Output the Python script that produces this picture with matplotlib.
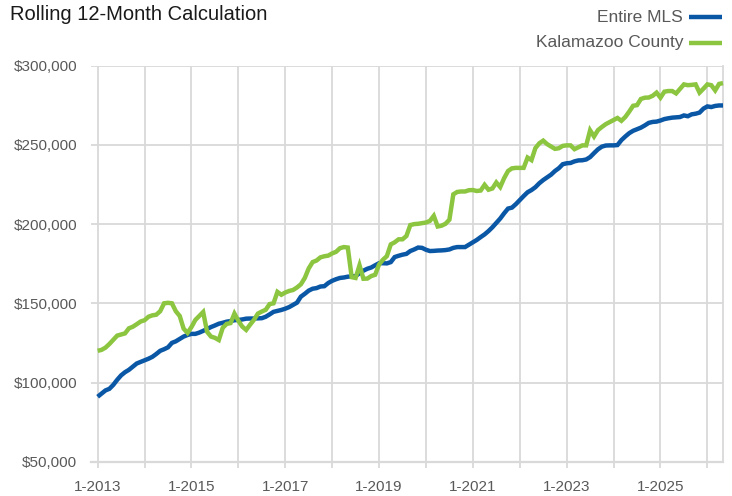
import numpy as np
import matplotlib
matplotlib.use("Agg")
import matplotlib.pyplot as plt
from matplotlib.lines import Line2D
from matplotlib.ticker import FuncFormatter

plt.rcParams['font.family'] = ['Liberation Sans', 'DejaVu Sans']

# ===== 数据：滚动12个月中位价（千美元），2013年1月起逐月 =====
start_year = 2013
entire_mls = [
    91, 93, 95, 96, 98.5, 101.7, 104.5, 106.5, 108, 110, 112, 113,
    114, 115, 116.2, 118, 120, 121, 122.2, 125, 126, 127.5, 129, 130,
    130.7, 130.7, 131.5, 132.6, 133.8, 135, 136, 137.1, 137.7, 138.4, 138.8, 139.3,
    139.5, 139.8, 140.3, 140.4, 140.4, 140.5, 140.6, 141.5, 143, 144.6, 145.2, 145.8,
    146.6, 147.6, 149, 150.4, 154.2, 156, 158, 159.2, 159.6, 160.6, 160.8, 162.8,
    164.2, 165.2, 166, 166.3, 166.8, 167, 167.2, 169, 170.6, 171.8, 172.6, 174,
    175.3, 175.3, 175.2, 176, 179.2, 180, 180.7, 181.2, 183, 184, 185.2, 185,
    183.8, 183, 183.1, 183.3, 183.4, 183.6, 184, 185, 185.5, 185.5, 185.5, 187,
    188.5, 190, 191.8, 193.5, 195.6, 198, 200.7, 203.5, 206.8, 209.8, 210.4, 212.6,
    215.2, 217.7, 220.1, 221.5, 223.3, 225.8, 227.8, 229.5, 231.2, 233.5, 235.3, 237.8,
    238.4, 238.6, 239.6, 240.2, 240.3, 240.8, 242.3, 244.8, 247.2, 248.9, 249.6, 249.7,
    249.7, 249.9, 253, 255.3, 257.4, 258.9, 259.9, 260.9, 262.3, 263.9, 264.5, 264.7,
    265.4, 266.3, 266.8, 267.2, 267.4, 267.6, 268.6, 268.1, 269.3, 269.7, 270.4, 272.9,
    274.3, 273.9, 274.6, 274.9, 274.9,
]
kalamazoo = [
    120, 120.6, 122, 124.3, 127, 129.6, 130.3, 131, 134.2, 135.2, 136.8, 138.5,
    139.3, 141.5, 142.4, 142.8, 145, 150, 150.3, 150, 145, 142, 134, 131.3,
    135, 139.5, 142, 144.5, 132, 129, 128.2, 126.8, 134.5, 137, 137.5, 143.5,
    139, 135.3, 133.2, 136.5, 139.6, 143.5, 144.8, 145.9, 149.5, 150, 157.2, 155.4,
    156.8, 157.8, 158.4, 160, 162, 166, 172, 176, 177, 179, 179.7, 180.1,
    181.5, 182.5, 184.8, 185.5, 185.2, 166.5, 166, 174, 165.5, 165.6, 167.2, 168,
    174.5, 177.5, 179.8, 187.2, 188.5, 190.4, 190.4, 192.5, 199.4, 200, 200.2, 200.6,
    201, 202, 205.2, 198.5, 199, 200.2, 202.8, 218.8, 220.3, 220.6, 220.6, 221.4,
    221.5, 220.9, 221.2, 224.8, 221.7, 222.5, 226.3, 223.4, 229, 233.5, 235.2, 235.5,
    235.5, 235.5, 242, 240.4, 248, 251, 252.7, 250.5, 249, 247.5, 247.9, 249.4,
    249.7, 249.7, 247.3, 248.5, 249.7, 249.7, 259.2, 255.3, 259.3, 261.3, 263.1, 264.4,
    265.7, 267, 265.2, 267.6, 271, 274.7, 275.1, 279, 279.8, 279.9, 281, 283,
    279.8, 283.6, 284, 284, 282.5, 285.4, 288.2, 287.7, 287.9, 288.2, 283, 285.5,
    288.2, 287.7, 284.4, 288.5, 289,
]
series_names = ["Entire MLS", "Kalamazoo County"]
series_colors = ["#0a57a6", "#8cc53f"]
y_ticks = [50000, 100000, 150000, 200000, 250000, 300000]

# ===== 绘图 =====
fig = plt.figure(figsize=(7.32, 4.96), dpi=100)
ax = fig.add_axes([91 / 732, 1 - 461.7 / 496, (723 - 91) / 732, (461.7 - 65.7) / 496])

x = np.arange(len(entire_mls))
for vals, c in zip([entire_mls, kalamazoo], series_colors):
    ax.plot(x, np.array(vals) * 1000, color=c, lw=3.2, solid_joinstyle="miter",
            solid_capstyle="butt", zorder=3, clip_on=False)

grid_c = "#d9d9d9"
year_ticks = np.arange(0, len(x), 12)
ax.set_xticks(year_ticks)
ax.set_xticklabels([f"1-{start_year + i}" if i % 2 == 0 else "" for i in range(len(year_ticks))])
ax.set_xlim(-1.7, len(x) - 1)
ax.set_ylim(50000, 300000)
ax.set_yticks(y_ticks)
ax.yaxis.set_major_formatter(FuncFormatter(lambda v, p: f"${v:,.0f}"))

ax.grid(True, color=grid_c, lw=1.3, zorder=0)
for s in ["top", "left"]:
    ax.spines[s].set_visible(False)
ax.spines["bottom"].set_color(grid_c)
ax.spines["bottom"].set_linewidth(1.6)
ax.spines["right"].set_color(grid_c)
ax.spines["right"].set_linewidth(1.3)
ax.tick_params(axis="x", length=4, width=1.3, color=grid_c, pad=9,
               labelsize=11, labelcolor="#595959")
ax.tick_params(axis="y", length=0, pad=10, labelsize=11, labelcolor="#595959")

# 标题与图例
fig.text(10 / 732, 1 - 14 / 496, "Rolling 12-Month Calculation", fontsize=14.5,
         color="#1a1a1a", ha="left", va="center")
for i, (name, c) in enumerate(zip(series_names, series_colors)):
    yy = 1 - (17 + 26 * i) / 496
    fig.text(683 / 732, yy, name, fontsize=12.5, color="#595959", ha="right", va="center")
    fig.add_artist(Line2D([689 / 732, 722 / 732], [yy, yy], color=c, lw=3.2,
                          solid_capstyle="butt"))

fig.savefig("out.png", dpi=100)
